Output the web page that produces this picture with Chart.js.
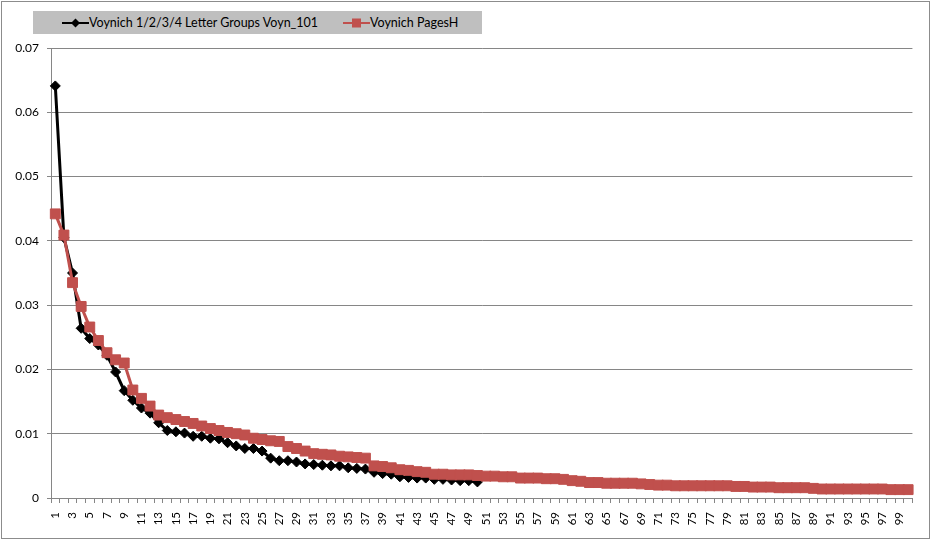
<!DOCTYPE html>
<html>
<head>
<meta charset="utf-8">
<script src="https://cdn.jsdelivr.net/npm/chart.js@4/dist/chart.umd.min.js"></script>
<style>
	body { margin: 0; background: #fff; font-family: Lato, "Open Sans", sans-serif; }
	#frame { position: absolute; left: 1px; top: 1px; width: 929px; height: 538px; box-sizing: border-box; border: 1px solid #8c8c8c; }
	#wrap { position: absolute; left: 0; top: 0; width: 931px; height: 541px; }
	#legend { position: absolute; left: 33px; top: 11px; width: 449px; height: 23px; background: #bfbfbf; font-size: 12.5px; color: #000; }
	.item { position: absolute; top: 0; height: 23px; line-height: 23px; white-space: nowrap; }
	.item svg { vertical-align: middle; margin-top: -2px; }
</style>
</head>
<body>
<div id="frame"></div>
<div id="wrap"><canvas id="chart" width="931" height="541"></canvas></div>
<div id="legend">
	<div class="item" style="left:29px"><svg width="27" height="12"><line x1="0" y1="6" x2="27" y2="6" stroke="#000" stroke-width="2"/><polygon points="13.5,1.5 18,6 13.5,10.5 9,6" fill="#000"/></svg>Voynich 1/2/3/4 Letter Groups Voyn_101</div>
	<div class="item" style="left:310px"><svg width="27" height="12"><line x1="0" y1="6" x2="27" y2="6" stroke="#c0504d" stroke-width="2"/><rect x="9" y="1.5" width="9" height="9" fill="#c0504d"/></svg>Voynich PagesH</div>
</div>
<script>
	// rank 1..100
	const ranks = [];
	for (let i = 1; i <= 100; i++) ranks.push(String(i));

	// Voynich 1/2/3/4 Letter Groups Voyn_101 (50 points)
	const voynGroups = [
		0.0641, 0.0405, 0.0350, 0.0264, 0.0248, 0.0238, 0.0222, 0.0196, 0.0167, 0.0152,
		0.0140, 0.0132, 0.0117, 0.0105, 0.0103, 0.0101, 0.0096, 0.0096, 0.0093, 0.0092,
		0.0086, 0.0081, 0.0077, 0.0077, 0.0073, 0.0062, 0.0058, 0.0058, 0.0056, 0.0053,
		0.0052, 0.0051, 0.0050, 0.0050, 0.0047, 0.0046, 0.0045, 0.0040, 0.0038, 0.0037,
		0.0033, 0.0032, 0.0031, 0.0031, 0.0029, 0.0029, 0.0028, 0.0027, 0.0027, 0.0025
	];

	// Voynich PagesH (100 points)
	const pagesH = [
		0.0442, 0.0409, 0.0335, 0.0298, 0.0266, 0.0245, 0.0226, 0.0215, 0.0210, 0.0168,
		0.0155, 0.0143, 0.0129, 0.0125, 0.0122, 0.0119, 0.0116, 0.0112, 0.0108, 0.0105,
		0.0102, 0.0100, 0.0098, 0.0093, 0.0091, 0.0089, 0.0088, 0.0080, 0.0077, 0.0073,
		0.0069, 0.0068, 0.0067, 0.0065, 0.0064, 0.0063, 0.0062, 0.0050, 0.0049, 0.0047,
		0.0044, 0.0043, 0.0041, 0.0040, 0.0037, 0.0037, 0.0036, 0.0036, 0.0036, 0.0035,
		0.0034, 0.0034, 0.0033, 0.0033, 0.0031, 0.0031, 0.0031, 0.0030, 0.0030, 0.0029,
		0.0027, 0.0026, 0.0024, 0.0024, 0.0023, 0.0023, 0.0023, 0.0023, 0.0022, 0.0021,
		0.0020, 0.0020, 0.0019, 0.0019, 0.0019, 0.0019, 0.0019, 0.0019, 0.0019, 0.0018,
		0.0018, 0.0017, 0.0017, 0.0017, 0.0016, 0.0016, 0.0016, 0.0016, 0.0015, 0.0014,
		0.0014, 0.0014, 0.0014, 0.0014, 0.0014, 0.0014, 0.0014, 0.0013, 0.0013, 0.0013
	];

	const yTicks = [0, 0.01, 0.02, 0.03, 0.04, 0.05, 0.06, 0.07];

	const gridGray = '#868686';

	new Chart(document.getElementById('chart'), {
		type: 'line',
		data: {
			labels: ranks,
			datasets: [{
				label: 'Voynich 1/2/3/4 Letter Groups Voyn_101',
				data: voynGroups,
				borderColor: '#000',
				backgroundColor: '#000',
				borderWidth: 3,
				pointStyle: 'rectRot',
				pointRadius: 5,
				pointBorderWidth: 1,
				tension: 0,
				order: 1
			}, {
				label: 'Voynich PagesH',
				data: pagesH,
				borderColor: '#c0504d',
				backgroundColor: '#c0504d',
				borderWidth: 3,
				pointStyle: 'rect',
				pointRadius: 7,
				pointBorderWidth: 1,
				tension: 0,
				order: 0
			}]
		},
		options: {
			responsive: false,
			animation: false,
			layout: { padding: { top: 48, left: 0, right: 16, bottom: 0 } },
			plugins: {
				legend: { display: false },
				tooltip: { enabled: false }
			},
			scales: {
				x: {
					offset: true,
					grid: {
						offset: true,
						drawOnChartArea: false,
						color: gridGray,
						tickLength: 5
					},
					border: { color: gridGray },
					ticks: {
						autoSkip: false,
						maxRotation: 90,
						minRotation: 90,
						padding: 9,
						color: '#000',
						font: { family: 'Lato', size: 11.5 },
						callback: function (val, i) { return i % 2 === 0 ? ranks[i] : ''; }
					},
					afterFit: function (axis) { axis.height = 43; }
				},
				y: {
					min: 0,
					max: 0.07,
					afterBuildTicks: function (axis) { axis.ticks = yTicks.map(v => ({ value: v })); },
					grid: { color: gridGray, tickLength: 4 },
					border: { color: gridGray },
					ticks: {
						padding: 8,
						color: '#000',
						font: { family: 'Lato', size: 12 },
						callback: function (v) { return v === 0 ? '0' : v.toFixed(2); }
					},
					afterFit: function (axis) { axis.width = 51; }
				}
			}
		}
	});
</script>
</body>
</html>
